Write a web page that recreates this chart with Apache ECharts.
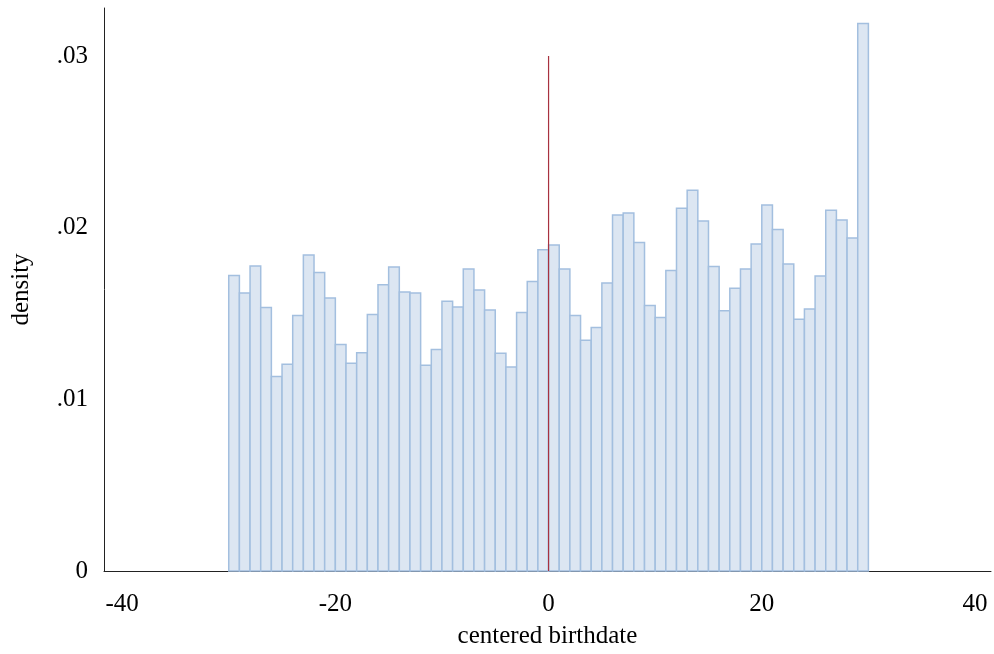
<!DOCTYPE html>
<html>
<head>
<meta charset="utf-8">
<script src="https://cdn.jsdelivr.net/npm/echarts@6/dist/echarts.min.js"></script>
<style>
  html, body { margin: 0; padding: 0; background: #fff; }
  #chart { width: 994px; height: 654px; }
</style>
</head>
<body>
<div id="chart"></div>
<script>
// histogram of centered birthdate, one-day bins from -30 to 30
const firstBin = -30;
const binWidth = 1;
const density = [
  0.01722, 0.01619, 0.01777, 0.01535, 0.01133, 0.01205, 0.01489, 0.01841, 0.01739, 0.01590,
  0.01320, 0.01211, 0.01271, 0.01495, 0.01668, 0.01771, 0.01625, 0.01619, 0.01199, 0.01290,
  0.01572, 0.01538, 0.01759, 0.01637, 0.01520, 0.01269, 0.01188, 0.01506, 0.01687, 0.01871,
  0.01899, 0.01759, 0.01489, 0.01345, 0.01419, 0.01678, 0.02074, 0.02086, 0.01914, 0.01547,
  0.01477, 0.01751, 0.02113, 0.02218, 0.02039, 0.01774, 0.01516, 0.01648, 0.01759, 0.01905,
  0.02132, 0.01990, 0.01788, 0.01466, 0.01526, 0.01718, 0.02101, 0.02045, 0.01940, 0.03190
];
const cutoffLine = [[0, 0], [0, 0.03]];
const xTicks = [-40, -20, 0, 20, 40];
const yTicks = [0, 0.01, 0.02, 0.03];

const font = "'Liberation Serif', 'Times New Roman', serif";

const bins = density.map((d, i) => {
  const lo = firstBin + i * binWidth;
  return [lo, lo + binWidth, d];
});

const chart = echarts.init(document.getElementById('chart'));

const option = {
  animation: false,
  backgroundColor: '#fff',
  grid: { left: 104, right: 2, top: 8, bottom: 82 },
  xAxis: {
    type: 'value',
    min: -41.7,
    max: 41.5,
    splitNumber: 4,
    name: 'centered birthdate',
    nameLocation: 'middle',
    nameGap: 53,
    nameTextStyle: { fontFamily: font, fontSize: 25, color: '#000' },
    axisLine: { show: true, onZero: false, lineStyle: { color: '#222', width: 1 } },
    axisTick: { show: false },
    splitLine: { show: false },
    axisLabel: {
      margin: 21,
      fontFamily: font,
      fontSize: 25,
      color: '#000',
      formatter: v => xTicks.some(t => Math.abs(t - v) < 1e-6) ? String(Math.round(v)) : ''
    }
  },
  yAxis: {
    type: 'value',
    min: 0,
    max: 0.0328,
    splitNumber: 3,
    name: 'density',
    nameLocation: 'middle',
    nameGap: 70,
    nameTextStyle: { fontFamily: font, fontSize: 25, color: '#000' },
    axisLine: { show: true, onZero: false, lineStyle: { color: '#222', width: 1 } },
    axisTick: { show: false },
    splitLine: { show: false },
    axisLabel: {
      margin: 16,
      fontFamily: font,
      fontSize: 25,
      color: '#000',
      formatter: v => {
        const t = yTicks.find(t => Math.abs(t - v) < 1e-7);
        if (t === undefined) return '';
        return t === 0 ? '0' : String(t).replace(/^0/, '');
      }
    }
  },
  series: [
    {
      type: 'custom',
      data: bins,
      encode: { x: [0, 1], y: 2 },
      renderItem: (params, api) => {
        const topLeft = api.coord([api.value(0), api.value(2)]);
        const bottomRight = api.coord([api.value(1), 0]);
        return {
          type: 'rect',
          shape: {
            x: topLeft[0],
            y: topLeft[1],
            width: bottomRight[0] - topLeft[0],
            height: bottomRight[1] - topLeft[1]
          },
          style: { fill: '#dce6f2', stroke: '#a3bfdf', lineWidth: 1.5 }
        };
      }
    },
    {
      type: 'line',
      data: cutoffLine,
      symbol: 'none',
      z: 5,
      lineStyle: { color: '#a8323f', width: 1.2 }
    }
  ]
};

chart.setOption(option);
</script>
</body>
</html>
